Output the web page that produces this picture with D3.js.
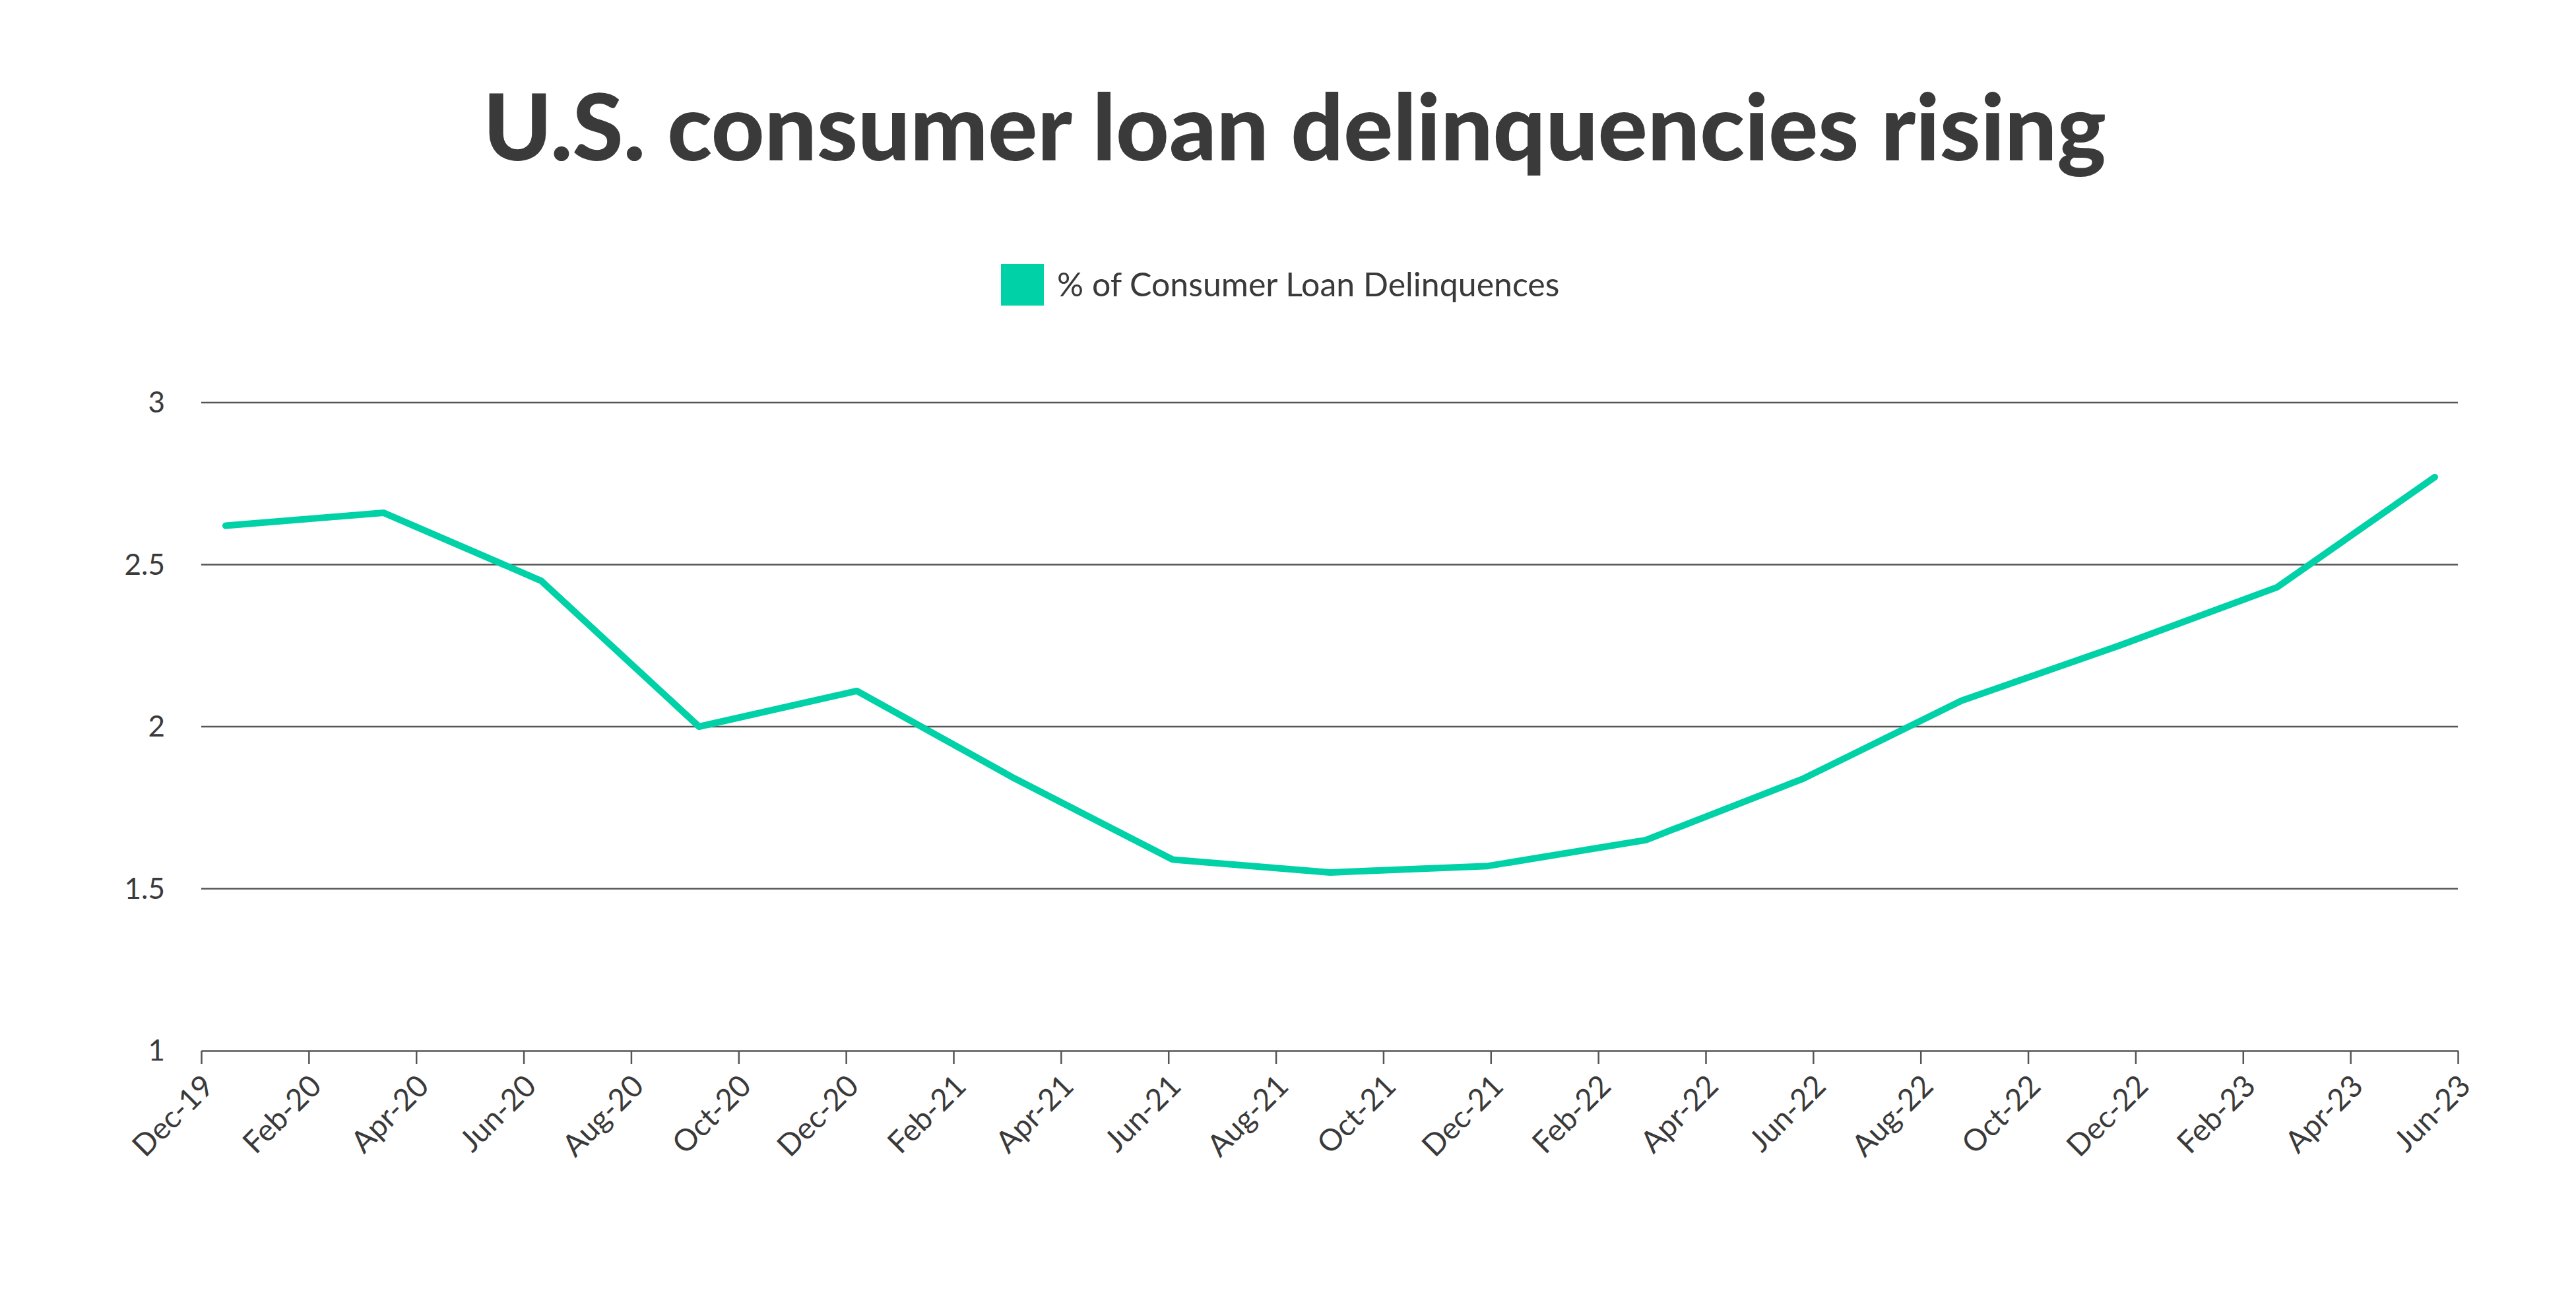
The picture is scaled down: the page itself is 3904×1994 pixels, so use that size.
<!DOCTYPE html>
<html><head><meta charset="utf-8">
<script src="https://cdn.jsdelivr.net/npm/d3@7"></script>
<style>body{margin:0;background:#fff}svg{display:block}</style>
</head><body><svg id="c" width="3904" height="1994"></svg>
<script>
const quarters = ["Dec-19","Mar-20","Jun-20","Sep-20","Dec-20","Mar-21","Jun-21","Sep-21","Dec-21","Mar-22","Jun-22","Sep-22","Dec-22","Mar-23","Jun-23"];
const values = [2.62,2.66,2.45,2.00,2.11,1.84,1.59,1.55,1.57,1.65,1.84,2.08,2.25,2.43,2.77];
const tickLabels = ["Dec-19","Feb-20","Apr-20","Jun-20","Aug-20","Oct-20","Dec-20","Feb-21","Apr-21","Jun-21","Aug-21","Oct-21","Dec-21","Feb-22","Apr-22","Jun-22","Aug-22","Oct-22","Dec-22","Feb-23","Apr-23","Jun-23"];
const yTicks = [1,1.5,2,2.5,3];

const svg = d3.select("#c");
const font = "Lato, 'Noto Sans', sans-serif";
const L = 305, R = 3725, T = 610, B = 1592;
const green = "#00d1a7", dark = "#3a3a3a";

svg.append("text").attr("x",1962).attr("y",243).attr("text-anchor","middle")
  .attr("font-family",font).attr("font-weight",900).attr("font-size",140).attr("fill",dark)
  .attr("letter-spacing",0).text("U.S. consumer loan delinquencies rising");

svg.append("rect").attr("x",1517).attr("y",400).attr("width",65).attr("height",63).attr("fill",green);
svg.append("text").attr("x",1602).attr("y",449).attr("font-family",font).attr("font-size",50).attr("fill",dark)
  .text("% of Consumer Loan Delinquences");

const y = d3.scaleLinear().domain([1,3]).range([B,T]);
const xt = d3.scalePoint().domain(tickLabels).range([L,R]);
const xp = d3.scalePoint().domain(quarters).range([342,3690]);

const gy = svg.append("g");
yTicks.forEach(v=>{
  if (v>1) gy.append("line").attr("x1",L).attr("x2",R).attr("y1",y(v)).attr("y2",y(v)).attr("stroke","#555").attr("stroke-width",2.5);
  gy.append("text").attr("x",250).attr("y",y(v)).attr("dy","0.35em").attr("text-anchor","end")
    .attr("font-family",font).attr("font-size",44).attr("fill",dark).text(v);
});

const gx = svg.append("g").attr("transform",`translate(0,${B})`)
  .call(d3.axisBottom(xt).tickSize(20).tickSizeOuter(0));
gx.select(".domain").attr("stroke","#555").attr("stroke-width",2.5);
gx.selectAll(".tick line").attr("stroke","#555").attr("stroke-width",2.5);
gx.selectAll(".tick text").attr("font-family",font).attr("font-size",46).attr("fill",dark)
  .attr("text-anchor","end").attr("y",0).attr("dy","0.35em").attr("transform","translate(10,45) rotate(-45)");

svg.append("path").datum(values)
  .attr("d", d3.line().x((d,i)=>xp(quarters[i])).y(d=>y(d)))
  .attr("fill","none").attr("stroke",green).attr("stroke-width",10).attr("stroke-linejoin","round").attr("stroke-linecap","round");
</script></body></html>
